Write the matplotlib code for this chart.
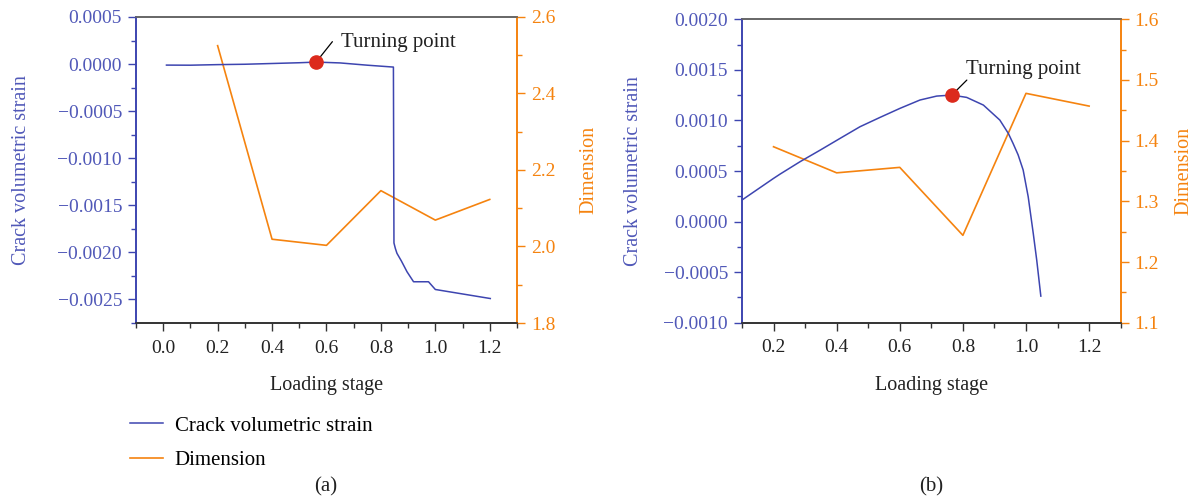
import numpy as np
import matplotlib
matplotlib.use("Agg")
import matplotlib.pyplot as plt
from matplotlib.ticker import MultipleLocator
from matplotlib.lines import Line2D

plt.rcParams['font.family'] = ['Liberation Serif', 'DejaVu Serif']
plt.rcParams['axes.unicode_minus'] = True

# ---- data ----
stage = [0.2, 0.4, 0.6, 0.8, 1.0, 1.2]

# panel (a)
strain_a_x = [0.012, 0.10, 0.20, 0.30, 0.40, 0.50, 0.562, 0.65, 0.75, 0.846,
              0.848, 0.853, 0.859, 0.875, 0.896, 0.920, 0.975, 1.000, 1.202]
strain_a_y = [-0.000011, -0.000012, -0.000006, -0.000002, 0.000006, 0.000014,
              0.000021, 0.000012, -0.000012, -0.000032,
              -0.00190, -0.001957, -0.00201, -0.00209, -0.002206, -0.002312,
              -0.002312, -0.002394, -0.00249]
dim_a = [2.525, 2.019, 2.003, 2.146, 2.069, 2.123]
turn_a = (0.562, 0.000021)

# panel (b)
strain_b_x = [0.10, 0.20, 0.221, 0.284, 0.348, 0.411, 0.474, 0.538, 0.601, 0.664,
              0.717, 0.765, 0.812, 0.865, 0.917, 0.944, 0.959, 0.975, 0.991,
              1.007, 1.023, 1.034, 1.047]
strain_b_y = [0.000213, 0.000427, 0.00047, 0.000592, 0.000707, 0.000823, 0.000938,
              0.001031, 0.00112, 0.001202, 0.001241, 0.001251, 0.001228, 0.001152,
              0.001004, 0.000872, 0.000773, 0.00066, 0.00051, 0.000245,
              -0.000117, -0.000381, -0.000737]
dim_b = [1.390, 1.347, 1.356, 1.244, 1.478, 1.457]
turn_b = (0.765, 0.001251)

blue = '#3d45b0'
blue_txt = '#5058b8'
orange = '#f5830f'
fs_tick = 14
fs_lab = 14.5
fs_big = 15

fig = plt.figure(figsize=(11.95, 4.98), dpi=100)


def panel(rect, sx, sy, dim, turn, xlim, ylim, y2lim, y2maj, y2min,
          line_end, txt_pos, pad_l, pad_r):
    ax = fig.add_axes(rect)
    ax2 = ax.twinx()
    ax.plot(sx, sy, color=blue, lw=1.1, zorder=3)
    ax2.plot(stage, dim, color=orange, lw=1.2)
    ax.plot(*turn, 'o', color='#dc2a1c', ms=9.5, zorder=5)
    ax.annotate('', xy=turn, xytext=line_end, textcoords='offset points',
                arrowprops=dict(arrowstyle='-', color='black', lw=0.9,
                                shrinkA=0, shrinkB=3))
    ax.annotate('Turning point', xy=turn, xytext=txt_pos, textcoords='offset points',
                fontsize=fs_big, ha='left', va='center', color='#222222')
    ax.set_zorder(ax2.get_zorder() + 1)
    ax.patch.set_visible(False)

    ax.set_xlim(*xlim)
    ax.set_ylim(*ylim)
    ax2.set_ylim(*y2lim)
    ax.xaxis.set_major_locator(MultipleLocator(0.2))
    ax.xaxis.set_minor_locator(MultipleLocator(0.1))
    ax.yaxis.set_major_locator(MultipleLocator(0.0005))
    ax.yaxis.set_minor_locator(MultipleLocator(0.00025))
    ax2.yaxis.set_major_locator(MultipleLocator(y2maj))
    ax2.yaxis.set_minor_locator(MultipleLocator(y2min))
    ax.yaxis.set_major_formatter(lambda v, p: f'{v:.4f}'.replace('-', '\u2212'))
    ax.xaxis.set_major_formatter(lambda v, p: f'{v:.1f}')
    ax2.yaxis.set_major_formatter(lambda v, p: f'{v:.1f}')

    for a in (ax, ax2):
        a.spines['top'].set_color('#666666')
        a.spines['bottom'].set_color('#333333')
        a.spines['left'].set_color(blue)
        a.spines['right'].set_color(orange)
        for s in a.spines.values():
            s.set_linewidth(1.2)
    ax.tick_params(axis='y', which='both', colors=blue, labelcolor=blue_txt,
                   labelsize=fs_tick, direction='out', width=1.0, pad=4)
    ax.tick_params(axis='y', which='major', length=6)
    ax.tick_params(axis='y', which='minor', length=3.5)
    ax.tick_params(axis='x', which='both', colors='#333333', labelcolor='#222222',
                   labelsize=fs_tick, direction='out', width=1.0, pad=6)
    ax.tick_params(axis='x', which='major', length=6)
    ax.tick_params(axis='x', which='minor', length=3.5)
    ax2.tick_params(axis='y', which='both', colors=orange, labelcolor=orange,
                    labelsize=fs_tick, direction='out', width=1.0, pad=4)
    ax2.tick_params(axis='y', which='major', length=6)
    ax2.tick_params(axis='y', which='minor', length=3.5)

    ax.set_xlabel('Loading stage', fontsize=fs_lab, color='#222222', labelpad=14)
    ax.set_ylabel('Crack volumetric strain', fontsize=fs_lab, color=blue_txt,
                  labelpad=pad_l)
    ax2.set_ylabel('Dimension', fontsize=fs_lab, color=orange, labelpad=pad_r)
    return ax, ax2


panel([0.1138, 0.3514, 0.3188, 0.6145], strain_a_x, strain_a_y, dim_a, turn_a,
      (-0.1, 1.3), (-0.00275, 0.0005), (1.8, 2.6), 0.2, 0.1,
      (11.7, 14.7), (18, 14), 19, 17)
panel([0.6209, 0.3520, 0.3169, 0.6092], strain_b_x, strain_b_y, dim_b, turn_b,
      (0.1, 1.3), (-0.001, 0.002), (1.1, 1.6), 0.1, 0.05,
      (10.8, 10.8), (10.3, 18.7), 15, 11)

handles = [Line2D([], [], color=blue, lw=1.1), Line2D([], [], color=orange, lw=1.2)]
fig.legend(handles, ['Crack volumetric strain', 'Dimension'], loc='upper left',
           bbox_to_anchor=(130 / 1195, 1 - 416 / 498), frameon=False, fontsize=fs_big,
           borderpad=0, borderaxespad=0, handlelength=1.6, handletextpad=0.55,
           labelspacing=0.72)

fig.text(326 / 1195, 1 - 487 / 498, '(a)', fontsize=fs_big, ha='center', va='center',
         color='#222222')
fig.text(931 / 1195, 1 - 487 / 498, '(b)', fontsize=fs_big, ha='center', va='center',
         color='#222222')

fig.savefig('out.png', dpi=100)
